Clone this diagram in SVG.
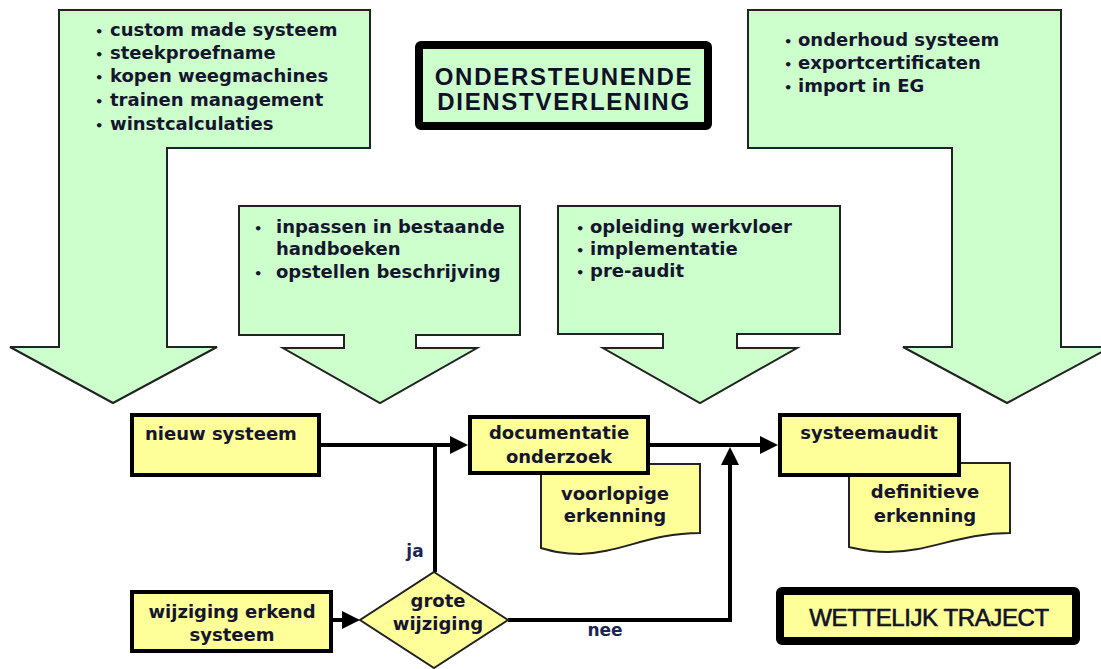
<svg xmlns="http://www.w3.org/2000/svg" width="1101" height="669" viewBox="0 0 1101 669">
<defs>
<style>
.green{fill:#CCFFCC;stroke:#222;stroke-width:2;stroke-linejoin:miter}
.box{fill:#FFFF99;stroke:#000;stroke-width:4}
.doc{fill:#FFFF99;stroke:#222;stroke-width:2}
.t{font-family:"DejaVu Sans",Verdana,sans-serif;font-weight:bold;font-size:18px;fill:#15152e}
.b{font-family:"DejaVu Sans",sans-serif;font-weight:bold;font-size:13px;fill:#15152e}
.c{text-anchor:middle}
.title{font-family:"Liberation Sans",Arial,sans-serif;font-size:24px;fill:#101028;text-anchor:middle}
.conn{fill:none;stroke:#000;stroke-width:4}
.lbl{font-family:"DejaVu Sans",sans-serif;font-weight:bold;font-size:17px;fill:#1b2550;text-anchor:middle}
</style>
<marker id="ah" markerUnits="userSpaceOnUse" markerWidth="18" markerHeight="18" viewBox="0 0 18 18" refX="0" refY="9" orient="auto">
<path d="M0,0 L18,9 L0,18 z" fill="#000"/>
</marker>
</defs>
<rect width="1101" height="669" fill="#fff"/>

<g id="arrow-left">
<polygon class="green" points="59,10 370,10 370,148 167,148 167,347 217,347 113,403 10,347 59,347"/>
<text class="b" x="95" y="36">•</text><text class="t" x="110" y="36">custom made systeem</text>
<text class="b" x="95" y="59">•</text><text class="t" x="110" y="59">steekproefname</text>
<text class="b" x="95" y="82">•</text><text class="t" x="110" y="82">kopen weegmachines</text>
<text class="b" x="95" y="106">•</text><text class="t" x="110" y="106">trainen management</text>
<text class="b" x="95" y="130">•</text><text class="t" x="110" y="130">winstcalculaties</text>
</g>

<g id="arrow-mid1">
<polygon class="green" points="239,206 520,206 520,335 416,335 416,348 477,348 380,403 283,348 344,348 344,335 239,335"/>
<text class="b" x="254" y="233">•</text><text class="t" x="276" y="233">inpassen in bestaande</text>
<text class="t" x="276" y="255">handboeken</text>
<text class="b" x="254" y="278">•</text><text class="t" x="276" y="278">opstellen beschrijving</text>
</g>

<g id="arrow-mid2">
<polygon class="green" points="558,206 840,206 840,334 737,334 737,348 797,348 700,403 603,348 663,348 663,334 558,334"/>
<text class="b" x="576" y="233">•</text><text class="t" x="590" y="233">opleiding werkvloer</text>
<text class="b" x="576" y="255">•</text><text class="t" x="590" y="255">implementatie</text>
<text class="b" x="576" y="277">•</text><text class="t" x="590" y="277">pre-audit</text>
</g>

<g id="arrow-right">
<polygon class="green" points="748,10 1061,10 1061,347 1111,347 1007,403 903,347 952,347 952,148 748,148"/>
<text class="b" x="784" y="46">•</text><text class="t" x="798" y="46">onderhoud systeem</text>
<text class="b" x="784" y="69">•</text><text class="t" x="798" y="69">exportcertificaten</text>
<text class="b" x="784" y="92">•</text><text class="t" x="798" y="92">import in EG</text>
</g>

<g id="title-ondersteunende">
<rect x="419" y="45" width="289" height="81" rx="2" fill="#CCFFCC" stroke="#000" stroke-width="8"/>
<text class="title" x="564" y="85" font-weight="bold" letter-spacing="1.7">ONDERSTEUNENDE</text>
<text class="title" x="564" y="110" font-weight="bold" letter-spacing="1.7">DIENSTVERLENING</text>
</g>

<g id="connectors">
<path class="conn" d="M321,445 L450,445" marker-end="url(#ah)"/>
<path class="conn" d="M435,572 L435,445"/>
<path class="conn" d="M333,620 L342,620" marker-end="url(#ah)"/>
<path class="conn" d="M508,620 L730,620 L730,465" marker-end="url(#ah)"/>
<path class="conn" d="M650,445 L760,445" marker-end="url(#ah)"/>
<text class="lbl" x="415" y="557">ja</text>
<text class="lbl" x="605" y="636">nee</text>
</g>

<g id="doc-voorlopige">
<path class="doc" d="M541,464 L700,464 L700,533 C650,533 620,553 580,554 C562,554 552,551 541,548 Z"/>
<text class="t c" x="615" y="500">voorlopige</text>
<text class="t c" x="615" y="522">erkenning</text>
</g>

<g id="doc-definitieve">
<path class="doc" d="M849,463 L1010,463 L1010,533 C960,533 930,552 888,552 C870,552 858,549 849,547 Z"/>
<text class="t c" x="925" y="498">definitieve</text>
<text class="t c" x="925" y="522">erkenning</text>
</g>

<g id="node-nieuw">
<rect class="box" x="132" y="415" width="187" height="60"/>
<text class="t" x="145" y="440">nieuw systeem</text>
</g>

<g id="node-documentatie">
<rect class="box" x="470" y="417" width="178" height="56"/>
<text class="t c" x="559" y="439">documentatie</text>
<text class="t c" x="559" y="463">onderzoek</text>
</g>

<g id="node-systeemaudit">
<rect class="box" x="780" y="415" width="179" height="60"/>
<text class="t c" x="869" y="439">systeemaudit</text>
</g>

<g id="node-wijziging">
<rect class="box" x="132" y="592" width="199" height="59"/>
<text class="t c" x="232" y="618">wijziging erkend</text>
<text class="t c" x="232" y="641">systeem</text>
</g>

<g id="node-grote">
<polygon points="434,572 508,620 434,668 360,620" fill="#FFFF99" stroke="#222" stroke-width="2"/>
<text class="t c" x="438" y="607">grote</text>
<text class="t c" x="438" y="630">wijziging</text>
</g>

<g id="title-wettelijk">
<rect x="780" y="591" width="296" height="50" rx="2" fill="#FFFF99" stroke="#000" stroke-width="8"/>
<text class="title" x="929" y="626" font-size="26" stroke="#101028" stroke-width="0.6" letter-spacing="-0.4">WETTELIJK TRAJECT</text>
</g>
</svg>
